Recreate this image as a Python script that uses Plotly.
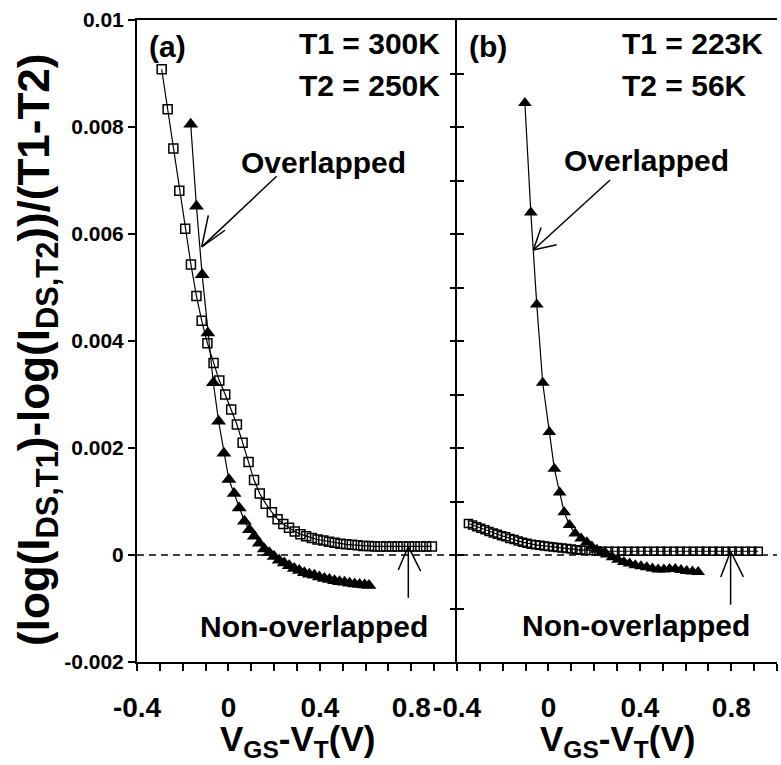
import plotly.graph_objects as go

# ---- Panel (a): T1 = 300K, T2 = 250K ----
a_sq_x = [-0.292, -0.266, -0.241, -0.215, -0.189, -0.164, -0.140, -0.117, -0.092, -0.065,
          -0.040, -0.014, 0.012, 0.037, 0.062, 0.088, 0.112, 0.137, 0.163, 0.190,
          0.215, 0.240, 0.265, 0.290, 0.315, 0.340, 0.365, 0.390, 0.415, 0.440,
          0.465, 0.490, 0.515, 0.540, 0.565, 0.590, 0.615, 0.640, 0.665, 0.690,
          0.715, 0.740, 0.765, 0.790, 0.815, 0.840, 0.865, 0.890]
a_sq_y = [0.00908, 0.00833, 0.00760, 0.00681, 0.00610, 0.00543, 0.00484, 0.00438, 0.00396, 0.00359,
          0.00326, 0.00300, 0.00272, 0.00244, 0.00210, 0.00174, 0.00140, 0.00115, 0.00096, 0.00080,
          0.00067, 0.00058, 0.00051, 0.00044, 0.00039, 0.00035, 0.00032, 0.00029, 0.00027, 0.00025,
          0.00023, 0.00021, 0.00020, 0.00019, 0.00018, 0.00017, 0.00017, 0.00016, 0.00016, 0.00016,
          0.00016, 0.00016, 0.00016, 0.00016, 0.00016, 0.00016, 0.00016, 0.00016]

a_tri_x = [-0.165, -0.140, -0.115, -0.090, -0.066, -0.043, -0.020, 0.002, 0.025, 0.047,
           0.070, 0.092, 0.113, 0.135, 0.157, 0.179, 0.200, 0.222, 0.244, 0.266,
           0.288, 0.310, 0.332, 0.354, 0.376, 0.398, 0.420, 0.442, 0.464, 0.486,
           0.508, 0.530, 0.552, 0.574, 0.596, 0.615]
a_tri_y = [0.00805, 0.00652, 0.00524, 0.00415, 0.00322, 0.00250, 0.00190, 0.00141, 0.00115, 0.00088,
           0.00063, 0.00047, 0.00035, 0.00022, 0.00011, 0.00004, -0.00003, -0.00010, -0.00015, -0.00020,
           -0.00025, -0.00029, -0.00033, -0.00036, -0.00038, -0.00041, -0.00044, -0.00046, -0.00048, -0.00050,
           -0.00051, -0.00053, -0.00054, -0.00055, -0.00056, -0.00057]

# ---- Panel (b): T1 = 223K, T2 = 56K ----
b_sq_x = [-0.350, -0.332, -0.314, -0.296, -0.278, -0.260, -0.241, -0.223, -0.205, -0.187,
          -0.169, -0.150, -0.132, -0.113, -0.094, -0.075, -0.056, -0.037, -0.018, 0.000,
          0.020, 0.040, 0.060, 0.080, 0.100, 0.121, 0.142, 0.164, 0.186, 0.210,
          0.234, 0.263, 0.291, 0.320, 0.348, 0.377, 0.405, 0.434, 0.462, 0.491,
          0.519, 0.548, 0.576, 0.605, 0.633, 0.662, 0.690, 0.719, 0.747, 0.776,
          0.804, 0.833, 0.861, 0.890, 0.918]
b_sq_y = [0.00059, 0.00056, 0.00053, 0.00050, 0.00047, 0.00044, 0.00041, 0.00039, 0.00036, 0.00034,
          0.00031, 0.00029, 0.00026, 0.00024, 0.00022, 0.00020, 0.00019, 0.00018, 0.00017, 0.00016,
          0.00015, 0.00014, 0.00013, 0.00012, 0.00011, 0.00010, 0.00009, 0.00009, 0.00008, 0.00008,
          0.00007, 0.00007, 0.00007, 0.00007, 0.00007, 0.00007, 0.00007, 0.00007, 0.00007, 0.00007,
          0.00007, 0.00007, 0.00007, 0.00007, 0.00007, 0.00007, 0.00007, 0.00007, 0.00007, 0.00007,
          0.00007, 0.00007, 0.00007, 0.00007, 0.00007]

b_tri_x = [-0.103, -0.077, -0.051, -0.025, 0.004, 0.026, 0.049, 0.069, 0.092, 0.117,
           0.143, 0.168, 0.190, 0.212, 0.233, 0.255, 0.280, 0.305, 0.330, 0.355,
           0.380, 0.405, 0.430, 0.455, 0.480, 0.505, 0.530, 0.555, 0.580, 0.605,
           0.630, 0.655]
b_tri_y = [0.00845, 0.00640, 0.00468, 0.00322, 0.00230, 0.00161, 0.00117, 0.00080, 0.00056, 0.00040,
           0.00031, 0.00024, 0.00016, 0.00010, 0.00005, 0.00001, -0.00004, -0.00009, -0.00013, -0.00016,
           -0.00019, -0.00021, -0.00023, -0.00025, -0.00027, -0.00027, -0.00026, -0.00026, -0.00028, -0.00030,
           -0.00031, -0.00032]

# ---- Tick labels ----
x_tick_vals = [-0.4, 0, 0.4, 0.8]
x_tick_text = ["-0.4", "0", "0.4", "0.8"]
y_tick_vals = [-0.002, 0, 0.002, 0.004, 0.006, 0.008, 0.01]
y_tick_text = ["-0.002", "0", "0.002", "0.004", "0.006", "0.008", "0.01"]

FONT = "Liberation Sans, Arial, sans-serif"
BLACK = "black"

fig = go.Figure()


def add_series(x, y, xa, ya, symbol, size, open_marker):
    marker = dict(symbol=symbol, size=size, color=BLACK)
    if open_marker:
        marker["line"] = dict(color=BLACK, width=1.5)
    fig.add_trace(go.Scatter(
        x=x, y=y, xaxis=xa, yaxis=ya, mode="lines+markers",
        line=dict(color=BLACK, width=1.2), marker=marker,
        showlegend=False, hoverinfo="skip"))


add_series(a_sq_x, a_sq_y, "x", "y", "square-open", 9, True)
add_series(a_tri_x, a_tri_y, "x", "y", "triangle-up", 13, False)
add_series(b_sq_x, b_sq_y, "x2", "y2", "square-open", 8, True)
add_series(b_tri_x, b_tri_y, "x2", "y2", "triangle-up", 12, False)

xaxis_common = dict(
    range=[-0.4, 1.0], showline=True, linecolor=BLACK, linewidth=2, mirror=True,
    ticks="outside", ticklen=7, tickwidth=1.5, tickcolor=BLACK,
    tickmode="array", tickvals=x_tick_vals, ticktext=x_tick_text,
    minor=dict(tickmode="linear", tick0=-0.4, dtick=0.1, ticks="outside",
               ticklen=7, tickwidth=1.5, tickcolor=BLACK, showgrid=False),
    tickfont=dict(family=FONT, size=28, color=BLACK, weight="bold"),
    ticklabelstandoff=12,
    showgrid=False, zeroline=False, fixedrange=True,
)

fig.update_layout(
    width=781, height=765,
    margin=dict(l=137, r=4, t=20, b=103),
    plot_bgcolor="white", paper_bgcolor="white",
    showlegend=False,
    xaxis=dict(domain=[0, 0.5], anchor="y", **xaxis_common),
    xaxis2=dict(domain=[0.5, 1.0], anchor="y2", **xaxis_common),
    yaxis=dict(
        range=[-0.002, 0.01], anchor="x", showline=True, linecolor=BLACK, linewidth=2,
        ticks="outside", ticklen=7, tickwidth=1.5, tickcolor=BLACK,
        tickmode="array", tickvals=y_tick_vals, ticktext=y_tick_text,
        tickfont=dict(family=FONT, size=21, color=BLACK, weight="bold"),
        showgrid=False, zeroline=False, fixedrange=True,
    ),
    yaxis2=dict(
        range=[-0.002, 0.01], anchor="x2", matches="y", showline=True, linecolor=BLACK,
        linewidth=2, ticks="inside", ticklen=7, tickwidth=1.5, tickcolor=BLACK,
        tickmode="linear", tick0=0, dtick=0.001, showticklabels=False,
        showgrid=False, zeroline=False, fixedrange=True,
    ),
    yaxis3=dict(
        range=[-0.002, 0.01], anchor="x", overlaying="y", side="right", showline=False,
        ticks="inside", ticklen=7, tickwidth=1.5, tickcolor=BLACK,
        tickmode="linear", tick0=0, dtick=0.001, showticklabels=False,
        showgrid=False, zeroline=False, fixedrange=True,
    ),
)

# an invisible trace so the right-hand tick axis of panel (a) is drawn
fig.add_trace(go.Scatter(x=[None], y=[None], xaxis="x", yaxis="y3",
                         showlegend=False, hoverinfo="skip"))

# zero reference line across both panels
fig.add_shape(type="line", xref="paper", yref="y", x0=0, x1=1, y0=0, y1=0,
              line=dict(color=BLACK, width=1.5, dash="7px,5px"), layer="below")

txt_font = dict(family=FONT, size=30, color=BLACK, weight="bold")


def label(text, x, y, xref, yref, xanchor="center"):
    fig.add_annotation(text=text, x=x, y=y, xref=xref, yref=yref, showarrow=False,
                       xanchor=xanchor, yanchor="middle", font=txt_font)


# panel texts
label("(a)", -0.358, 0.00950, "x", "y", "left")
label("T1 = 300K", 0.298, 0.00956, "x", "y", "left")
label("T2 = 250K", 0.298, 0.00878, "x", "y", "left")
label("Overlapped", 0.414, 0.00734, "x", "y")
label("Non-overlapped", 0.374, -0.00134, "x", "y")

label("(b)", -0.358, 0.00950, "x2", "y2", "left")
label("T1 = 223K", 0.312, 0.00956, "x2", "y2", "left")
label("T2 = 56K", 0.312, 0.00878, "x2", "y2", "left")
label("Overlapped", 0.427, 0.00737, "x2", "y2")
label("Non-overlapped", 0.383, -0.00132, "x2", "y2")

# open arrows (shaft + two barbs)
arrow_line = dict(color=BLACK, width=1.5)


def arrow(xr, yr, tail, tip, barb1, barb2):
    for p in (tail, barb1, barb2):
        fig.add_shape(type="line", xref=xr, yref=yr, x0=p[0], y0=p[1],
                      x1=tip[0], y1=tip[1], line=arrow_line)


arrow("x", "y", (0.211, 0.00708), (-0.117, 0.00576), (-0.088, 0.00635), (-0.015, 0.00607))
arrow("x", "y", (0.787, -0.00080), (0.787, 0.00016), (0.743, -0.00028), (0.841, -0.00030))
arrow("x2", "y2", (0.270, 0.00701), (-0.066, 0.00570), (-0.032, 0.00612), (0.036, 0.00580))
arrow("x2", "y2", (0.797, -0.00093), (0.797, 0.00007), (0.754, -0.00041), (0.853, -0.00041))

# axis titles
xtitle = "V<sub>GS</sub>-V<sub>T</sub>(V)"
for dom in ("x domain", "x2 domain"):
    fig.add_annotation(text=xtitle, x=0.5, y=0, xref=dom, yref="paper",
                       yanchor="middle", yshift=-79, showarrow=False,
                       font=dict(family=FONT, size=35, color=BLACK, weight="bold"))

fig.add_annotation(
    text="(log(I<sub>DS,T1</sub>)-log(I<sub>DS,T2</sub>))/(T1-T2)",
    x=0, y=0.486, xref="paper", yref="paper", xanchor="center", yanchor="middle",
    xshift=-100, textangle=-90, showarrow=False,
    font=dict(family=FONT, size=44, color=BLACK, weight="bold"))

fig.write_html("out.html")
